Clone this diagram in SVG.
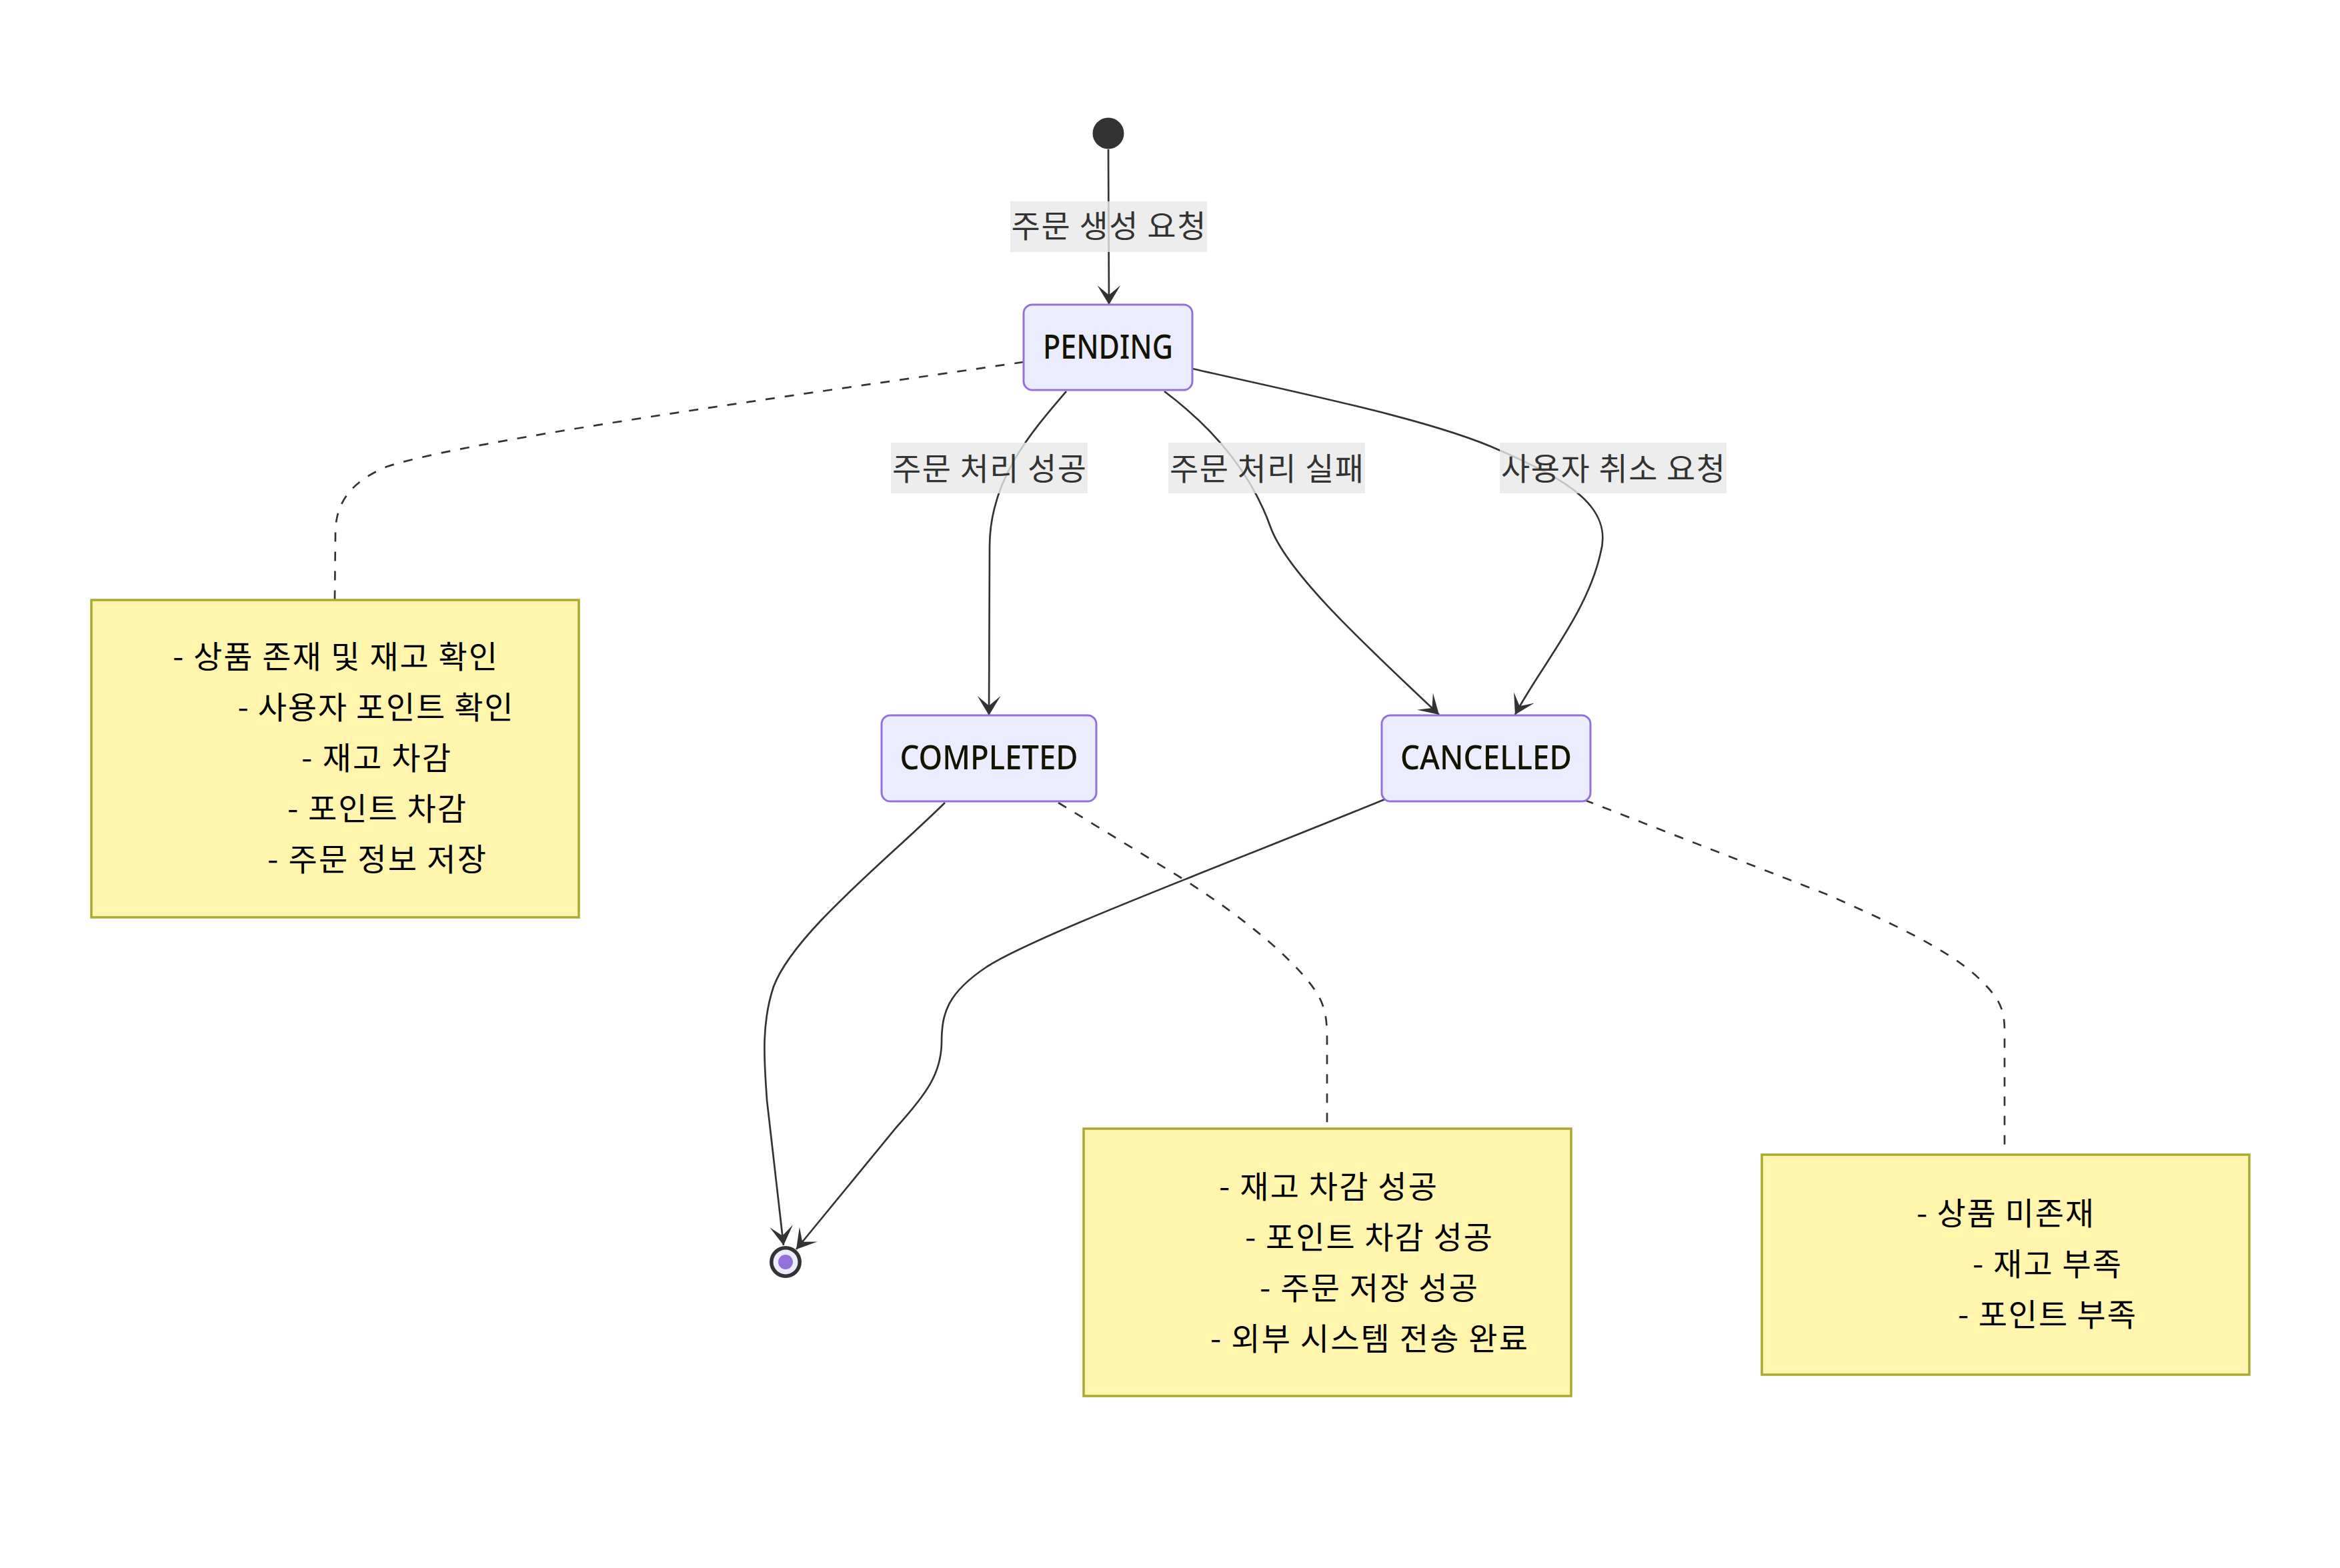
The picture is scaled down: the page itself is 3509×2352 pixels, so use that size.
<svg xmlns="http://www.w3.org/2000/svg" width="3509" height="2352" viewBox="0 0 3509 2352">
  <style>
    .state rect { fill: #ECECFF; stroke: #9370DB; stroke-width: 3; }
    .state text { font-family: "Noto Sans", "Open Sans", sans-serif; font-size: 51px; font-weight: 500; fill: #131300; text-anchor: middle; }
    .note rect { fill: #fff5ad; stroke: #aaaa33; stroke-width: 3.5; }
    .note text { font-family: "Noto Sans CJK KR", "Noto Sans", sans-serif; font-size: 47px; fill: #000; text-anchor: middle; }
    .edge { fill: none; stroke: #333; stroke-width: 2.7; }
    .note-edge { fill: none; stroke: #333; stroke-width: 2.7; stroke-dasharray: 14 15; }
    .lbl rect { fill: #e8e8e8; fill-opacity: 0.8; }
    .lbl text { font-family: "Noto Sans CJK KR", "Noto Sans", sans-serif; font-size: 47px; fill: #333; text-anchor: middle; }
  </style>
  <defs>
    <marker id="barb" viewBox="0 0 20 14" refX="19" refY="7" markerWidth="58" markerHeight="40.6" markerUnits="userSpaceOnUse" orient="auto">
      <path d="M 19,7 L9,13 L14,7 L9,1 Z" fill="#333"/>
    </marker>
  </defs>
  <rect width="3509" height="2352" fill="#ffffff"/>

  <g id="connectors">
    <path class="edge" marker-end="url(#barb)" d="M1662,224 L1663,457"/>
    <path class="edge" marker-end="url(#barb)" d="M1599,587 C1545,650 1484,720 1484,820 L1483,1073"/>
    <path class="edge" marker-end="url(#barb)" d="M1746,587 C1830,650 1880,720 1905,790 C1930,860 2050,970 2158,1072"/>
    <path class="edge" marker-end="url(#barb)" d="M1788,553 C1950,590 2150,630 2250,676 C2350,720 2420,760 2400,830 C2380,920 2310,1000 2272,1072"/>
    <path class="edge" marker-end="url(#barb)" d="M1417,1204 C1330,1290 1190,1400 1160,1480 C1140,1540 1147,1600 1150,1650 L1175,1868"/>
    <path class="edge" marker-end="url(#barb)" d="M2079,1198 C1830,1300 1560,1400 1480,1450 C1420,1490 1412,1520 1412,1565 C1411,1610 1390,1640 1345,1690 L1194,1874"/>
    <path class="note-edge" d="M1535,543 C1200,592 700,660 580,700 C520,725 503,760 503,800 L502,899"/>
    <path class="note-edge" d="M1587,1204 L1770,1316 C1880,1385 1950,1450 1975,1490 C1988,1512 1990,1530 1990,1560 L1990,1693"/>
    <path class="note-edge" d="M2376,1200 L2738,1341 C2850,1390 2930,1430 2970,1470 C2995,1495 3006,1510 3006,1545 L3006,1732"/>
  </g>

  <g id="edge-labels">
    <g class="lbl" id="label-create">
      <rect x="1515" y="302" width="295" height="76"/>
      <text x="1662.5" y="356" textLength="292" lengthAdjust="spacing">주문 생성 요청</text>
    </g>
    <g class="lbl" id="label-success">
      <rect x="1336" y="664" width="295" height="76"/>
      <text x="1483.5" y="720" textLength="291" lengthAdjust="spacing">주문 처리 성공</text>
    </g>
    <g class="lbl" id="label-fail">
      <rect x="1752" y="664" width="295" height="76"/>
      <text x="1899.5" y="720" textLength="291" lengthAdjust="spacing">주문 처리 실패</text>
    </g>
    <g class="lbl" id="label-cancel">
      <rect x="2249" y="664" width="340" height="76"/>
      <text x="2419" y="720" textLength="336" lengthAdjust="spacing">사용자 취소 요청</text>
    </g>
  </g>

  <g id="start">
    <circle cx="1662" cy="200" r="23.5" fill="#333"/>
  </g>

  <g id="PENDING" class="state">
    <rect x="1535" y="457" width="253" height="128" rx="13" ry="13"/>
    <text x="1661.5" y="537.5" textLength="195" lengthAdjust="spacingAndGlyphs">PENDING</text>
  </g>

  <g id="COMPLETED" class="state">
    <rect x="1322" y="1073" width="322" height="129" rx="13" ry="13"/>
    <text x="1483" y="1154" textLength="267" lengthAdjust="spacingAndGlyphs">COMPLETED</text>
  </g>

  <g id="CANCELLED" class="state">
    <rect x="2072" y="1073" width="313" height="129" rx="13" ry="13"/>
    <text x="2228.5" y="1154" textLength="257" lengthAdjust="spacingAndGlyphs">CANCELLED</text>
  </g>

  <g id="end">
    <circle cx="1178" cy="1893" r="24" fill="#333"/>
    <circle cx="1178" cy="1893" r="18.5" fill="#ECECFF"/>
    <circle cx="1178" cy="1893" r="11" fill="#9370DB"/>
  </g>

  <g id="note-pending" class="note">
    <rect x="137" y="900" width="731" height="476"/>
    <text x="502.5" y="1002" textLength="487" lengthAdjust="spacing">- 상품 존재 및 재고 확인</text>
    <text x="563" y="1078" textLength="413" lengthAdjust="spacing">- 사용자 포인트 확인</text>
    <text x="564" y="1154" textLength="224" lengthAdjust="spacing">- 재고 차감</text>
    <text x="565" y="1230" textLength="268" lengthAdjust="spacing">- 포인트 차감</text>
    <text x="565" y="1306" textLength="328" lengthAdjust="spacing">- 주문 정보 저장</text>
  </g>

  <g id="note-completed" class="note">
    <rect x="1625" y="1693" width="731" height="401"/>
    <text x="1991.5" y="1797" textLength="327" lengthAdjust="spacing">- 재고 차감 성공</text>
    <text x="2052.5" y="1873" textLength="371" lengthAdjust="spacing">- 포인트 차감 성공</text>
    <text x="2052.5" y="1949" textLength="327" lengthAdjust="spacing">- 주문 저장 성공</text>
    <text x="2053" y="2025" textLength="476" lengthAdjust="spacing">- 외부 시스템 전송 완료</text>
  </g>

  <g id="note-cancelled" class="note">
    <rect x="2642" y="1732" width="731" height="330"/>
    <text x="3007" y="1837" textLength="266" lengthAdjust="spacing">- 상품 미존재</text>
    <text x="3069.5" y="1913" textLength="223" lengthAdjust="spacing">- 재고 부족</text>
    <text x="3069.5" y="1989" textLength="267" lengthAdjust="spacing">- 포인트 부족</text>
  </g>
</svg>
